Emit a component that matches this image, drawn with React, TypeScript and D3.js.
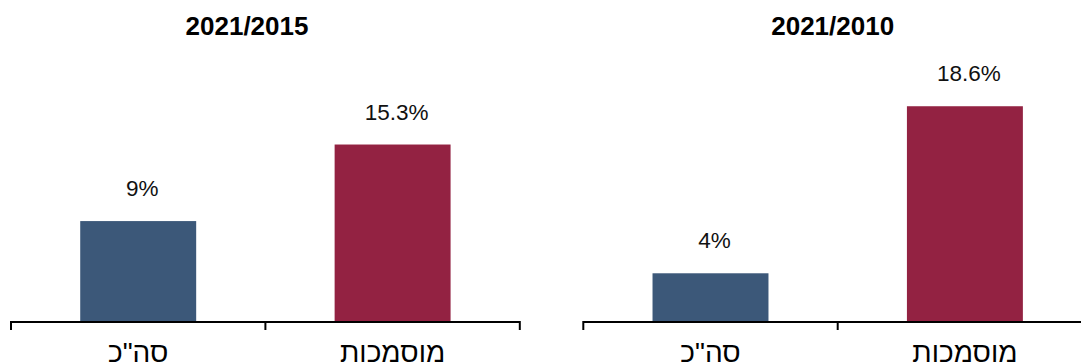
import React from "react";
import * as d3 from "d3";

const categories = ['סה"כ', "מוסמכות"];
const panelTitles = ["2021/2015", "2021/2010"];
const values2015 = [8.7, 15.3];
const labels2015 = ["9%", "15.3%"];
const values2010 = [4.2, 18.6];
const labels2010 = ["4%", "18.6%"];
const colors = ["#3c5879", "#932242"];

const W = 1081;
const H = 363;
const baseY = 322;
const yScale = d3.scaleLinear().domain([0, 20]).range([baseY, baseY - 20 * 11.6]);

const panels = [
  { title: panelTitles[0], values: values2015, labels: labels2015, x0: 11, titleX: 247 },
  { title: panelTitles[1], values: values2010, labels: labels2010, x0: 583.3, titleX: 832.7 },
];
const panelW = 508.8;
const FONT = "Liberation Sans, Arial, Helvetica, sans-serif";

function Panel({ p }: { p: (typeof panels)[number] }) {
  const x = d3
    .scaleBand<string>()
    .domain(categories)
    .range([p.x0, p.x0 + panelW])
    .paddingInner(0.5442)
    .paddingOuter(0.2721);
  const step = x.step();
  const tickXs = d3.range(categories.length + 1).map((i) => p.x0 + i * step);
  return (
    <g>
      <text
        x={p.titleX}
        y={34.5}
        textAnchor="middle"
        fontFamily={FONT}
        fontWeight="bold"
        fontSize={26}
        fill="#000"
      >
        {p.title}
      </text>
      {categories.map((c, i) => (
        <rect
          key={c}
          x={x(c)}
          y={yScale(p.values[i])}
          width={x.bandwidth()}
          height={baseY - yScale(p.values[i])}
          fill={colors[i]}
        />
      ))}
      {categories.map((c, i) => (
        <text
          key={"l" + c}
          x={(x(c) as number) + x.bandwidth() / 2 + 4}
          y={yScale(p.values[i]) - 25}
          textAnchor="middle"
          fontFamily={FONT}
          fontSize={22.5}
          fill="#111"
        >
          {p.labels[i]}
        </text>
      ))}
      <line x1={p.x0} x2={p.x0 + panelW} y1={baseY} y2={baseY} stroke="#000" strokeWidth={2} />
      {tickXs.map((tx, i) => (
        <line key={"t" + i} x1={tx} x2={tx} y1={baseY - 1} y2={baseY + 8} stroke="#000" strokeWidth={2} />
      ))}
      {categories.map((c) => (
        <text
          key={"c" + c}
          x={(x(c) as number) + x.bandwidth() / 2}
          y={362}
          textAnchor="middle"
          fontFamily={FONT}
          fontSize={28}
          fill="#000"
        >
          {c}
        </text>
      ))}
    </g>
  );
}

export default function App() {
  return (
    <svg
      width={W}
      height={H}
      viewBox={`0 0 ${W} ${H}`}
      style={{ position: "absolute", left: 0, top: 0, background: "#fff" }}
    >
      <rect width={W} height={H} fill="#fff" />
      {panels.map((p) => (
        <Panel key={p.title} p={p} />
      ))}
    </svg>
  );
}
